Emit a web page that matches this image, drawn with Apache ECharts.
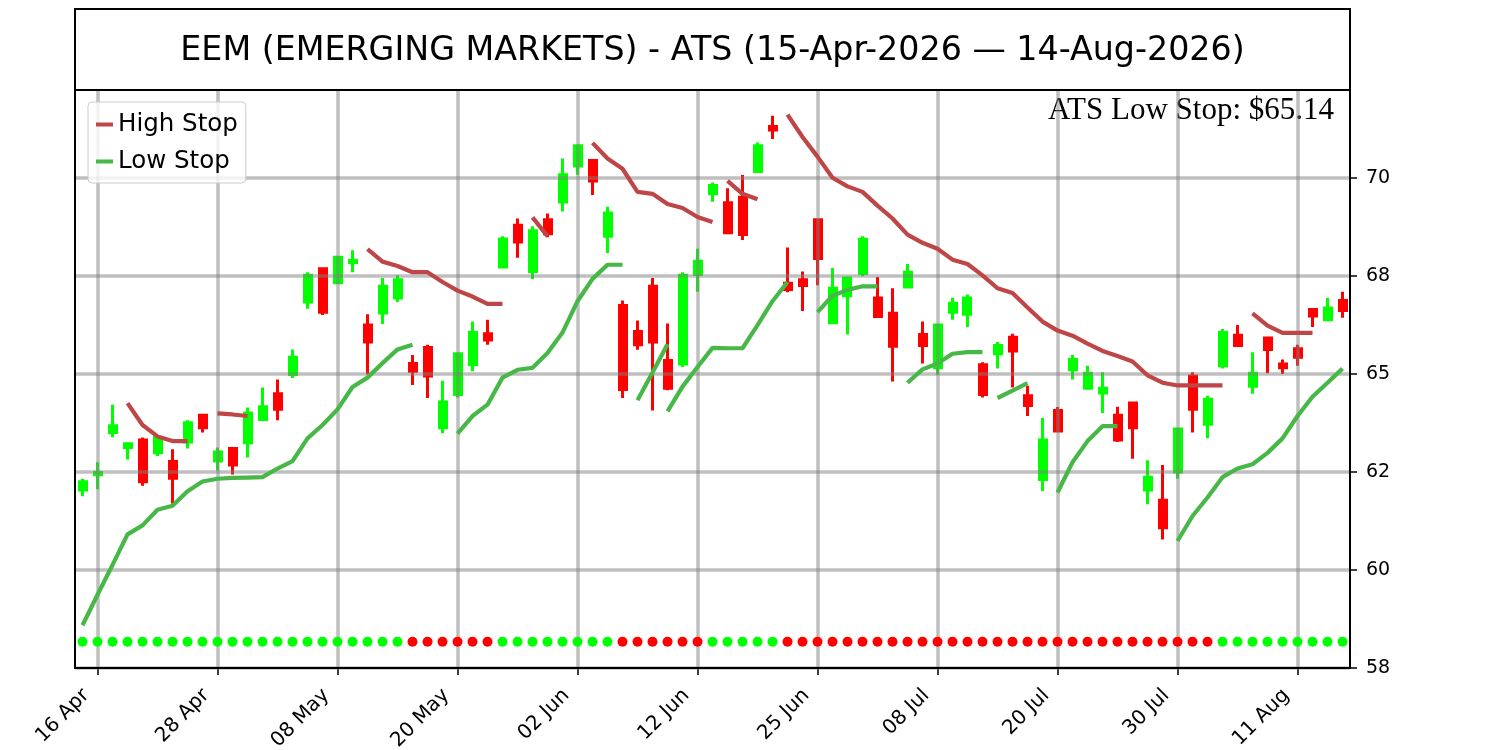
<!DOCTYPE html>
<html>
<head>
<meta charset="utf-8">
<script src="https://cdn.jsdelivr.net/npm/echarts@6/dist/echarts.min.js"></script>
<style>
html,body{margin:0;padding:0;background:#fff;}
#chart{width:1500px;height:750px;}
</style>
</head>
<body>
<div id="chart"></div>
<script>
// ---------------- DATA ----------------
const chartTitle = 'EEM (EMERGING MARKETS) - ATS (15-Apr-2026 \u2014 14-Aug-2026)';

const dates = [
 '2026-04-15','2026-04-16','2026-04-17','2026-04-20','2026-04-21','2026-04-22','2026-04-23','2026-04-24','2026-04-27','2026-04-28','2026-04-29','2026-04-30',
 '2026-05-01','2026-05-04','2026-05-05','2026-05-06','2026-05-07','2026-05-08','2026-05-11','2026-05-12','2026-05-13','2026-05-14','2026-05-15','2026-05-18','2026-05-19','2026-05-20','2026-05-21','2026-05-22','2026-05-26','2026-05-27','2026-05-28','2026-05-29',
 '2026-06-01','2026-06-02','2026-06-03','2026-06-04','2026-06-05','2026-06-08','2026-06-09','2026-06-10','2026-06-11','2026-06-12','2026-06-15','2026-06-16','2026-06-17','2026-06-18','2026-06-22','2026-06-23','2026-06-24','2026-06-25','2026-06-26','2026-06-29','2026-06-30',
 '2026-07-01','2026-07-02','2026-07-06','2026-07-07','2026-07-08','2026-07-09','2026-07-10','2026-07-13','2026-07-14','2026-07-15','2026-07-16','2026-07-17','2026-07-20','2026-07-21','2026-07-22','2026-07-23','2026-07-24','2026-07-27','2026-07-28','2026-07-29','2026-07-30','2026-07-31',
 '2026-08-03','2026-08-04','2026-08-05','2026-08-06','2026-08-07','2026-08-10','2026-08-11','2026-08-12','2026-08-13','2026-08-14'
];

const opens = [
 62.04,62.43,63.51,63.13,63.32,62.99,62.77,63.27,63.95,62.78,63.10,63.25,
 63.84,64.50,64.99,66.84,67.69,67.33,67.85,66.25,66.56,66.94,65.27,65.68,63.63,64.48,65.24,66.03,67.73,68.80,67.62,68.94,
 69.39,70.31,70.45,68.52,66.75,66.09,67.24,65.35,65.26,67.54,69.60,69.37,69.51,70.17,71.32,67.32,67.41,68.94,66.31,67.00,67.57,
 66.94,66.55,67.22,66.01,65.16,66.58,66.53,65.24,65.52,65.94,64.45,62.31,64.07,65.11,64.64,64.52,63.95,64.26,62.04,61.78,62.50,64.95,
 63.72,65.21,65.99,64.69,65.92,65.26,65.65,66.65,66.39,66.88
];
const closes = [
 62.25,62.49,63.68,63.22,62.25,63.38,62.34,63.76,63.63,63.01,62.68,64.01,
 64.17,64.10,65.43,67.52,66.58,67.98,67.90,65.82,67.24,67.41,65.07,64.95,64.29,65.52,66.06,65.87,68.45,68.37,68.66,68.58,
 70.09,70.83,69.93,69.11,64.61,65.75,65.82,64.64,67.52,67.88,69.81,68.61,68.56,70.83,71.23,67.16,67.26,67.95,67.19,67.45,68.44,
 66.47,65.71,67.60,65.73,66.25,66.81,66.94,64.48,65.73,65.59,64.20,63.32,63.55,65.37,65.02,64.64,63.32,63.63,62.37,61.08,63.60,64.10,
 64.36,66.06,65.73,65.02,65.63,65.16,65.43,66.48,66.69,66.62
];
const lows = [
 61.88,62.06,63.39,62.82,62.15,62.91,61.69,63.10,63.51,62.54,62.44,62.87,
 63.82,63.82,64.90,66.67,66.51,67.32,67.60,64.99,66.28,66.84,64.72,64.39,63.49,64.40,65.07,65.75,67.71,67.97,67.43,68.49,
 69.15,70.09,69.57,68.09,64.39,65.62,64.07,64.59,65.18,67.10,69.40,68.59,68.42,70.17,71.00,67.09,66.61,67.27,66.27,66.01,67.50,
 66.47,64.81,67.22,65.27,64.99,66.39,66.20,64.40,65.14,64.66,63.93,62.02,63.51,64.86,64.64,64.01,63.27,62.84,61.68,60.78,62.33,63.51,
 63.36,65.14,65.71,64.50,65.02,65.00,65.21,66.20,66.37,66.44
];
const highs = [
 62.33,62.75,64.22,63.25,63.38,63.44,63.08,63.82,63.97,63.13,63.13,64.15,
 64.66,64.86,65.63,67.60,67.69,67.98,68.16,66.53,67.45,67.52,65.49,65.75,64.83,65.56,66.34,66.39,68.52,68.97,68.77,69.10,
 70.50,70.86,70.45,69.27,66.88,66.37,67.45,66.29,67.60,68.20,69.89,69.74,70.08,70.91,71.59,68.23,67.62,68.97,67.71,67.45,68.52,
 67.48,67.19,67.81,66.34,66.28,66.95,67.03,65.30,65.82,66.03,64.70,63.88,64.16,65.49,65.21,65.05,64.17,64.28,62.80,62.68,63.63,65.05,
 64.45,66.15,66.25,65.56,65.96,65.37,65.75,66.67,66.95,67.10
];

// ATS trend state per day (1 = up / green dot, -1 = down / red dot)
const trend = [
 1,1,1,1,1,1,1,1,1,1,1,1,1,1,1,1,1,1,1,1,1,1,
 -1,-1,-1,-1,-1,-1,
 1,1,1,1,1,1,1,1,
 -1,-1,-1,-1,-1,-1,
 1,1,1,1,1,
 -1,-1,-1,-1,-1,-1,-1,-1,-1,-1,-1,-1,-1,-1,-1,-1,-1,-1,-1,-1,-1,-1,-1,-1,-1,-1,-1,-1,-1,
 1,1,1,1,1,1,1,1,1
];
const trendDotLevel = 58.17;

// Stop line segments: [first date, values...]
const highStopSegments = [
 ['2026-04-20', [64.26,63.70,63.41,63.29,63.29]],
 ['2026-04-28', [64.00,63.97,63.93]],
 ['2026-05-12', [68.19,67.87,67.76,67.60,67.60,67.35,67.13,66.98,66.79,66.79]],
 ['2026-05-28', [69.00,68.52]],
 ['2026-06-03', [70.90,70.50,70.24,69.65,69.60,69.34,69.24,69.01,68.88]],
 ['2026-06-16', [69.93,69.60,69.46]],
 ['2026-06-23', [71.62,71.05,70.55,70.01,69.79,69.65,69.30,68.97,68.56,68.35,68.20,67.92,67.81,67.52,67.19,67.07,66.70,66.34,66.11,65.98,65.78,65.59,65.46,65.32,64.97,64.78,64.71,64.71,64.71,64.71]],
 ['2026-08-06', [66.55,66.24,66.05,66.05,66.05]]
];
const lowStopSegments = [
 ['2026-04-15', [58.59,59.37,60.13,60.91,61.14,61.54,61.64,62.01,62.26,62.33,62.35,62.36,62.37,62.59,62.78,63.36,63.70,64.10,64.67,64.91,65.28,65.63,65.75]],
 ['2026-05-20', [63.48,63.93,64.22,64.91,65.11,65.16,65.54,66.06,66.86,67.43,67.79,67.79]],
 ['2026-06-08', [64.33,65.04,65.76]],
 ['2026-06-10', [64.05,64.68,65.18,65.67,65.66,65.66,66.25,66.86,67.35]],
 ['2026-06-25', [66.58,67.00,67.15,67.24,67.24]],
 ['2026-07-06', [64.78,65.12,65.27,65.52,65.56,65.56]],
 ['2026-07-14', [64.39,64.58,64.77]],
 ['2026-07-20', [61.98,62.75,63.29,63.67,63.67]],
 ['2026-07-30', [60.74,61.38,61.85,62.37,62.59,62.70,62.99,63.36,63.93,64.42,64.78,65.14]]
];

const tickDates  = ['2026-04-16','2026-04-28','2026-05-08','2026-05-20','2026-06-02','2026-06-12','2026-06-25','2026-07-08','2026-07-20','2026-07-30','2026-08-11'];
const tickLabels = ['16 Apr','28 Apr','08 May','20 May','02 Jun','12 Jun','25 Jun','08 Jul','20 Jul','30 Jul','11 Aug'];
const yTicks      = [57.5, 60, 62.5, 65, 67.5, 70];
const yTickLabels = ['58', '60', '62', '65', '68', '70'];

// ---------------- BUILD ----------------
function segmentsToSeries(segs) {
  const a = dates.map(() => null), b = dates.map(() => null);
  segs.forEach((s, k) => {
    const target = (k % 2 === 0) ? a : b;
    const start = dates.indexOf(s[0]);
    s[1].forEach((v, j) => { target[start + j] = v; });
  });
  return [a, b];
}
const [highA, highB] = segmentsToSeries(highStopSegments);
const [lowA, lowB] = segmentsToSeries(lowStopSegments);
const lastLowSeg = lowStopSegments[lowStopSegments.length - 1][1];
const lastLowStop = lastLowSeg[lastLowSeg.length - 1];

const HIGH_COLOR = '#bf4646';
const LOW_COLOR = '#47b847';
const UP = '#00ff00', DOWN = '#ff0000';
const FONT = 'DejaVu Sans';

const isTick = (idx, val) => tickDates.indexOf(val) >= 0;

function stopLine(name, data, color) {
  return {
    type: 'line', name: name, data: data, color: color,
    showSymbol: false, symbol: 'none', connectNulls: false,
    lineStyle: { color: color, width: 4.2 },
    z: 5, silent: true
  };
}

const chart = echarts.init(document.getElementById('chart'), null, { renderer: 'canvas' });
const option = {
  animation: false,
  backgroundColor: '#ffffff',
  grid: { left: 75, right: 150, top: 90, bottom: 82, containLabel: false, outerBoundsMode: 'none' },
  legend: {
    data: ['High Stop', 'Low Stop'],
    orient: 'vertical', left: 88, top: 102,
    icon: 'rect', itemWidth: 17, itemHeight: 4, itemGap: 12,
    padding: [10, 8, 9, 8],
    backgroundColor: 'rgba(255,255,255,0.8)',
    borderColor: '#cccccc', borderWidth: 1, borderRadius: 4,
    textStyle: { fontSize: 24.5, fontFamily: FONT, color: '#000' },
    z: 10
  },
  xAxis: {
    type: 'category', data: dates, boundaryGap: true,
    axisLine: { show: true, lineStyle: { color: '#000', width: 2 } },
    axisTick: { show: true, interval: isTick, alignWithLabel: true, length: 7, lineStyle: { color: '#000', width: 1.5 } },
    axisLabel: {
      interval: isTick, rotate: 45, margin: 13, padding: [0, 16, 0, 0],
      fontSize: 20, fontFamily: FONT, color: '#000',
      formatter: v => { const k = tickDates.indexOf(v); return k >= 0 ? tickLabels[k] : ''; }
    },
    splitLine: { show: false }
  },
  yAxis: {
    type: 'value', position: 'right', min: 57.5, max: 72.25, interval: 2.5, scale: true,
    axisLine: { show: true, lineStyle: { color: '#000', width: 2 } },
    axisTick: { show: true, customValues: yTicks, length: 7, lineStyle: { color: '#000', width: 1.5 } },
    axisLabel: {
      customValues: yTicks, margin: 16, fontSize: 19, fontFamily: FONT, color: '#000',
      formatter: v => { const k = yTicks.findIndex(t => Math.abs(t - v) < 1e-6); return k >= 0 ? yTickLabels[k] : ''; }
    },
    splitLine: { show: false }
  },
  graphic: [
    { type: 'text', x: 1334, y: 111, z: 1, silent: true,
      style: { text: 'ATS Low Stop: $' + lastLowStop.toFixed(2), fontSize: 31, fontFamily: 'Liberation Serif', fill: '#000', align: 'right', verticalAlign: 'middle' } },
    { type: 'text', x: 712.5, y: 51.5, z: 100, silent: true,
      style: { text: chartTitle, fontSize: 33.3, fontFamily: FONT, fill: '#000', align: 'center', verticalAlign: 'middle' } },
    { type: 'rect', z: 100, silent: true, shape: { x: 75, y: 9, width: 1275, height: 81 },
      style: { fill: 'none', stroke: '#000', lineWidth: 2 } },
    { type: 'rect', z: 100, silent: true, shape: { x: 75, y: 90, width: 1275, height: 578 },
      style: { fill: 'none', stroke: '#000', lineWidth: 2 } }
  ],
  series: [
    {
      type: 'candlestick', name: 'EEM',
      data: dates.map((d, i) => [opens[i], closes[i], lows[i], highs[i]]),
      barWidth: 7.5,
      itemStyle: { color: UP, color0: DOWN, borderColor: UP, borderColor0: DOWN, borderWidth: 3 },
      z: 3, silent: true
    },
    {
      type: 'line', name: 'grid', data: dates.map(() => null), silent: true, z: 4,
      markLine: {
        silent: true, symbol: 'none', label: { show: false },
        lineStyle: { color: 'rgba(128,128,128,0.5)', width: 3.5, type: 'solid' },
        emphasis: { disabled: true },
        data: tickDates.map(d => ({ xAxis: d })).concat(yTicks.map(v => ({ yAxis: v })))
      }
    },
    stopLine('High Stop', highA, HIGH_COLOR),
    stopLine('High Stop', highB, HIGH_COLOR),
    stopLine('Low Stop', lowA, LOW_COLOR),
    stopLine('Low Stop', lowB, LOW_COLOR),
    {
      type: 'scatter', name: 'trend', symbolSize: 10, z: 6, silent: true,
      data: dates.map((d, i) => ({ value: [d, trendDotLevel], itemStyle: { color: trend[i] > 0 ? UP : DOWN, opacity: 1 } }))
    }
  ]
};
chart.setOption(option);
</script>
</body>
</html>
